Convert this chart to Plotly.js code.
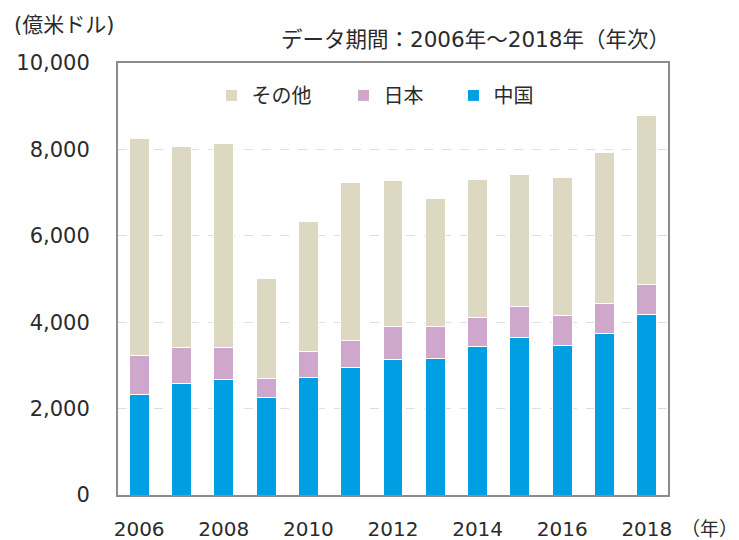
<!DOCTYPE html>
<html>
<head>
<meta charset="utf-8">
<script src="https://cdn.plot.ly/plotly-3.0.1.min.js"></script>
<style>html,body{margin:0;padding:0;background:#fff;}#chart{width:739px;height:540px;}</style>
</head>
<body>
<div id="chart"></div>
<script>
const years = [2006, 2007, 2008, 2009, 2010, 2011, 2012, 2013, 2014, 2015, 2016, 2017, 2018];
const china = [2326, 2573, 2666, 2250, 2712, 2943, 3128, 3167, 3429, 3653, 3452, 3730, 4169];
const japan = [895, 840, 747, 455, 608, 632, 771, 732, 686, 708, 701, 709, 693];
const other = [5040, 4663, 4733, 2312, 3015, 3662, 3391, 2968, 3198, 3068, 3191, 3499, 3915];
const seriesNames = ['中国', '日本', 'その他'];
const yTickVals = [0, 2000, 4000, 6000, 8000, 10000];
const yTickText = ['0', '2,000', '4,000', '6,000', '8,000', '10,000'];
const xTickVals = [2006, 2008, 2010, 2012, 2014, 2016, 2018];
const xTickText = ['2006', '2008', '2010', '2012', '2014', '2016', '2018'];

const FONT = 'DejaVu Sans, Noto Sans CJK JP, sans-serif';
const CJK = 'Noto Sans CJK JP, sans-serif';
const TXT = '#2b2b2b';
const colors = ['#009fe3', '#cfa7cd', '#ddd8c2'];
const seriesData = [china, japan, other];
const legendIds = ['legend3', 'legend2', 'legend'];

const traces = seriesData.map((vals, i) => ({
  type: 'bar',
  x: years,
  y: vals,
  name: seriesNames[i],
  legend: legendIds[i],
  marker: {color: colors[i], line: {color: '#ffffff', width: 1}},
  hoverinfo: 'x+y+name'
}));

const legendBase = {
  orientation: 'h', yanchor: 'middle', y: 0.925, xanchor: 'left',
  bgcolor: 'rgba(0,0,0,0)', font: {family: CJK, size: 20, color: TXT},
  itemclick: false, itemdoubleclick: false
};

const layout = {
  width: 739, height: 540,
  margin: {l: 118, r: 71, t: 63, b: 45},
  paper_bgcolor: '#ffffff', plot_bgcolor: '#ffffff',
  barmode: 'stack', bargap: 0.53,
  font: {family: FONT, size: 20, color: TXT},
  showlegend: true,
  legend: Object.assign({}, legendBase, {x: 0.17}),
  legend2: Object.assign({}, legendBase, {x: 0.41}),
  legend3: Object.assign({}, legendBase, {x: 0.61}),
  xaxis: {
    range: [2005.5, 2018.5], tickvals: xTickVals, ticktext: xTickText,
    showgrid: false, zeroline: false, showline: true, mirror: true,
    linecolor: '#8c8c8c', linewidth: 2, ticks: '', ticklabelstandoff: 15,
    tickfont: {family: FONT, size: 20, color: TXT}, fixedrange: true
  },
  yaxis: {
    range: [0, 10000], tickvals: yTickVals, ticktext: yTickText,
    showgrid: true, gridcolor: '#dedede', griddash: 'dash', gridwidth: 1,
    zeroline: false, showline: true, mirror: true,
    linecolor: '#8c8c8c', linewidth: 2, ticks: '', ticklabelstandoff: 22,
    tickfont: {family: FONT, size: 21, color: TXT}, fixedrange: true
  },
  annotations: [
    {text: '(億米ドル)', xref: 'paper', yref: 'paper', x: -0.193, y: 1.088,
     xanchor: 'left', yanchor: 'middle', showarrow: false,
     font: {family: FONT, size: 21, color: TXT}},
    {text: 'データ期間：2006年～2018年（年次）', xref: 'paper', yref: 'paper', x: 1.007, y: 1.055,
     xanchor: 'right', yanchor: 'middle', showarrow: false,
     font: {family: FONT, size: 21.5, color: TXT}},
    {text: '（年）', xref: 'paper', yref: 'paper', x: 1.02, y: -0.075,
     xanchor: 'left', yanchor: 'middle', showarrow: false,
     font: {family: CJK, size: 19, color: TXT}}
  ]
};

Plotly.newPlot('chart', traces, layout, {displayModeBar: false, staticPlot: false});
</script>
</body>
</html>
